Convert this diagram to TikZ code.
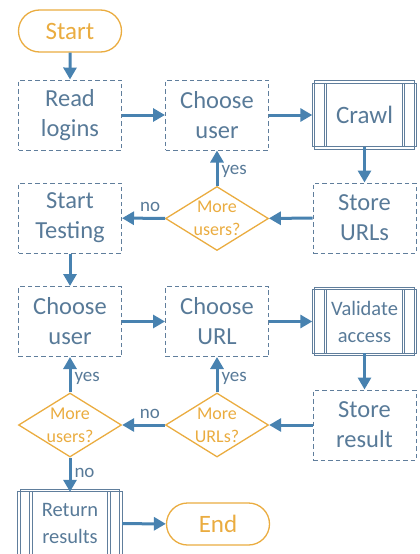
\documentclass[tikz,border=0pt]{standalone}
\usepackage{fontspec}
\setmainfont{Carlito}
\usetikzlibrary{shapes.geometric,shapes.misc,arrows.meta}
\definecolor{txtblue}{RGB}{88,122,152}
\definecolor{arrblue}{RGB}{72,130,176}
\definecolor{dashblue}{RGB}{96,126,156}
\definecolor{orng}{RGB}{234,172,64}
\tikzset{
  dbox/.style={draw=dashblue, line width=1pt, dash pattern=on 4.5pt off 3pt, rectangle,
    minimum width=103pt, minimum height=70pt, align=center, text=txtblue,
    font=\fontsize{24.5}{30}\selectfont, inner sep=0pt},
  pbox/.style={rectangle, minimum width=104pt, minimum height=63pt, align=center, text=txtblue,
    inner sep=0pt},
  term/.style={draw=orng, line width=1.3pt, rounded rectangle, minimum width=103pt,
    minimum height=42pt, text=orng, font=\fontsize{25}{28}\selectfont, inner sep=0pt},
  dec/.style={draw=orng, line width=1.3pt, diamond, aspect=1.6, minimum width=103pt,
    minimum height=64pt, inner sep=0pt, align=center, text=orng,
    font=\fontsize{18}{23}\selectfont},
  arr/.style={draw=arrblue, line width=3pt, -{Triangle[length=12pt,width=13pt]}},
  lbl/.style={text=txtblue, font=\fontsize{19}{22}\selectfont, inner sep=0pt},
  bar/.style={draw=dashblue, line width=0.9pt}
}
\newcommand{\ppframe}[1]{%
  \draw[bar] (#1.north west) rectangle (#1.south east);
  \draw[bar] ([shift={(2.5pt,2.5pt)}]#1.north west) rectangle ([shift={(-2.5pt,-2.5pt)}]#1.south east);
  \draw[bar] ([xshift=12pt]#1.north west) -- ([xshift=12pt]#1.south west);
  \draw[bar] ([xshift=14.5pt]#1.north west) -- ([xshift=14.5pt]#1.south west);
  \draw[bar] ([xshift=-12pt]#1.north east) -- ([xshift=-12pt]#1.south east);
  \draw[bar] ([xshift=-14.5pt]#1.north east) -- ([xshift=-14.5pt]#1.south east);
}
\begin{document}
\begin{tikzpicture}[x=1pt,y=-1pt]
\useasboundingbox (0,0) rectangle (420,554);
\node[term] (start) at (70,31) {Start};
\node[dbox] (read) at (70,115) {Read\\logins};
\node[dbox] (cu1) at (217,115) {Choose\\user};
\node[pbox, font=\fontsize{25}{30}\selectfont] (crawl) at (364.5,115) {Crawl};
\node[dbox] (surl) at (364.5,218) {Store\\URLs};
\node[dec] (mu1) at (217,218.5) {More\\users?};
\node[dbox] (st) at (70,218) {Start\\Testing};
\node[dbox] (cu2) at (70,321.5) {Choose\\user};
\node[dbox] (curl) at (217,321.5) {Choose\\URL};
\node[pbox, font=\fontsize{20.5}{27}\selectfont] (val) at (364.5,321.5) {Validate\\access};
\node[dbox] (sres) at (364.5,425) {Store\\result};
\node[dec] (murl) at (217,425) {More\\URLs?};
\node[dec] (mu2) at (70,425) {More\\users?};
\node[pbox, font=\fontsize{20.5}{27}\selectfont] (ret) at (70,523.5) {Return\\results};
\node[term] (end) at (218,524) {End};
\ppframe{crawl}
\ppframe{val}
\ppframe{ret}
\draw[arr] (start) -- (read);
\draw[arr] (read) -- (cu1);
\draw[arr] (cu1) -- (crawl);
\draw[arr] (crawl) -- (surl);
\draw[arr] (surl) -- (mu1);
\draw[arr] (mu1) -- node[lbl, right=3pt, pos=0.4]{yes} (cu1);
\draw[arr] (mu1) -- node[lbl, above=5pt, pos=0.35]{no} (st);
\draw[arr] (st) -- (cu2);
\draw[arr] (cu2) -- (curl);
\draw[arr] (curl) -- (val);
\draw[arr] (val) -- (sres);
\draw[arr] (sres) -- (murl);
\draw[arr] (murl) -- node[lbl, right=3pt, pos=0.4]{yes} (curl);
\draw[arr] (murl) -- node[lbl, above=5pt, pos=0.35]{no} (mu2);
\draw[arr] (mu2) -- node[lbl, right=3pt, pos=0.4]{yes} (cu2);
\draw[arr] (mu2) -- node[lbl, right=3pt, pos=0.45]{no} (ret);
\draw[arr] (ret) -- (end);
\end{tikzpicture}
\end{document}
